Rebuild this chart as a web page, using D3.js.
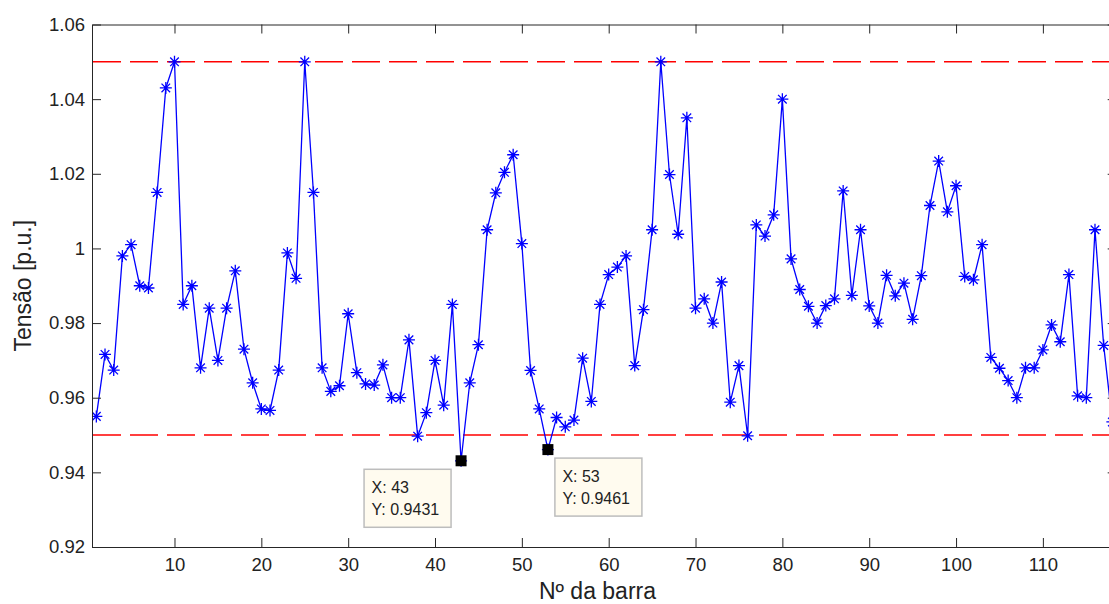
<!DOCTYPE html>
<html>
<head>
<meta charset="utf-8">
<script src="https://cdn.jsdelivr.net/npm/d3@7"></script>
<style>
  body { margin: 0; background: #fff; }
  svg { display: block; font-family: "Liberation Sans", Arial, sans-serif; }
  .axis path, .axis line { stroke: #262626; stroke-width: 1; }
  .axis text { fill: #222; font-size: 18.5px; }
</style>
</head>
<body>
<svg id="chart" width="1109" height="604"></svg>
<script>
// bus numbers and voltage profile (p.u.)
const buses = d3.range(1, 119);
const voltages = [
  0.955, 0.9716, 0.9674, 0.998, 1.001, 0.990, 0.9894, 1.015, 1.043, 1.050,
  0.985, 0.990, 0.968, 0.984, 0.970, 0.984, 0.994, 0.973, 0.964, 0.957,
  0.9566, 0.9674, 0.9988, 0.992, 1.050, 1.015, 0.968, 0.9617, 0.9632, 0.9825,
  0.9667, 0.9637, 0.9634, 0.9688, 0.960, 0.960, 0.9755, 0.9497, 0.956, 0.970,
  0.958, 0.985, 0.9431, 0.964, 0.9742, 1.005, 1.0149, 1.0204, 1.0251, 1.0013,
  0.9673, 0.957, 0.9461, 0.9547, 0.9522, 0.954, 0.9706, 0.959, 0.985, 0.993,
  0.995, 0.998, 0.9686, 0.9836, 1.005, 1.050, 1.0198, 1.0038, 1.035, 0.984,
  0.9865, 0.980, 0.991, 0.9588, 0.9686, 0.9498, 1.0063, 1.0033, 1.009, 1.040,
  0.9972, 0.989, 0.9845, 0.980, 0.9847, 0.9865, 1.0154, 0.9874, 1.005, 0.9846,
  0.980, 0.9928, 0.9873, 0.9907, 0.981, 0.9927, 1.0115, 1.0234, 1.0098, 1.0168,
  0.9925, 0.9916, 1.001, 0.9708, 0.9679, 0.9646, 0.960, 0.968, 0.968, 0.9728,
  0.9795, 0.975, 0.993, 0.9605, 0.960, 1.005, 0.974, 0.9535
];
const limits = [0.95, 1.05];
const xTicks = [10, 20, 30, 40, 50, 60, 70, 80, 90, 100, 110];
const yTicks = [0.92, 0.94, 0.96, 0.98, 1, 1.02, 1.04, 1.06];
const tips = [
  { bus: 43, v: 0.9431, side: "left" },
  { bus: 53, v: 0.9461, side: "right" }
];

const svg = d3.select("#chart");
const m = { left: 92, right: 1116.7, top: 24.5, bottom: 547 };

const x = d3.scaleLinear().domain([0.5, 118.5]).range([m.left, m.right]);
const y = d3.scaleLinear().domain([0.92, 1.06]).range([m.bottom, m.top]);

svg.append("defs").append("clipPath").attr("id", "plotclip")
  .append("rect")
  .attr("x", m.left).attr("y", m.top)
  .attr("width", m.right - m.left).attr("height", m.bottom - m.top);

const plot = svg.append("g").attr("clip-path", "url(#plotclip)");

// limit lines
plot.selectAll("line.limit")
  .data(limits)
  .enter().append("line")
  .attr("class", "limit")
  .attr("x1", m.left + 1).attr("x2", m.right)
  .attr("y1", d => y(d)).attr("y2", d => y(d))
  .attr("stroke", "#ff0000")
  .attr("stroke-width", 1.5)
  .attr("stroke-dasharray", "28 9");

const pts = buses.map((b, i) => [b, voltages[i]]);

// voltage profile
plot.append("path")
  .datum(pts)
  .attr("fill", "none")
  .attr("stroke", "#0000ff")
  .attr("stroke-width", 1.3)
  .attr("d", d3.line().x(d => x(d[0])).y(d => y(d[1])));

// '*' markers
const r = 6, rd = 4.3;
const star = `M${-r},0H${r}M0,${-r}V${r}M${-rd},${-rd}L${rd},${rd}M${-rd},${rd}L${rd},${-rd}`;
plot.selectAll("path.mk")
  .data(pts)
  .enter().append("path")
  .attr("class", "mk")
  .attr("transform", d => `translate(${x(d[0])},${y(d[1])})`)
  .attr("d", star)
  .attr("fill", "none")
  .attr("stroke", "#0000ff")
  .attr("stroke-width", 1.3);

// axes, ticks pointing inward on all four sides
svg.append("g").attr("class", "axis")
  .attr("transform", `translate(0,${m.bottom})`)
  .call(d3.axisBottom(x).tickValues(xTicks).tickSizeInner(-9).tickSizeOuter(0).tickPadding(11));
svg.append("g").attr("class", "axis")
  .attr("transform", `translate(0,${m.top})`)
  .call(d3.axisTop(x).tickValues(xTicks).tickSizeInner(-9).tickSizeOuter(0).tickFormat(""));
svg.append("g").attr("class", "axis")
  .attr("transform", `translate(${m.left},0)`)
  .call(d3.axisLeft(y).tickValues(yTicks).tickSizeInner(-9).tickSizeOuter(0).tickPadding(7)
    .tickFormat(d => String(+d.toFixed(2))));
svg.append("g").attr("class", "axis")
  .attr("transform", `translate(${m.right},0)`)
  .call(d3.axisRight(y).tickValues(yTicks).tickSizeInner(-9).tickSizeOuter(0).tickFormat(""));

// data tips
tips.forEach(t => {
  const px = x(t.bus), py = y(t.v);
  svg.append("rect")
    .attr("x", px - 5.5).attr("y", py - 5.5)
    .attr("width", 11).attr("height", 11)
    .attr("fill", "#000");

  const bx = t.side === "left" ? px - 97 : px + 7;
  const by = py + 8.5;
  const box = svg.append("g").attr("transform", `translate(${bx},${by})`);
  box.append("rect")
    .attr("width", 87).attr("height", 58)
    .attr("fill", "#fffbef")
    .attr("stroke", "#bdbdbd")
    .attr("stroke-width", 1.5);
  box.append("text").attr("x", 7.5).attr("y", 24)
    .attr("font-size", "16px").attr("fill", "#222")
    .text(`X: ${t.bus}`);
  box.append("text").attr("x", 7.5).attr("y", 45.5)
    .attr("font-size", "16px").attr("fill", "#222")
    .text(`Y: ${t.v}`);
});

// axis labels
svg.append("text")
  .attr("x", (m.left + 1109) / 2 - 3).attr("y", 599)
  .attr("text-anchor", "middle")
  .attr("font-size", "23px").attr("fill", "#222")
  .text("Nº da barra");

svg.append("text")
  .attr("transform", `translate(31,${(m.top + m.bottom) / 2}) rotate(-90)`)
  .attr("text-anchor", "middle")
  .attr("font-size", "23px").attr("fill", "#222")
  .text("Tensão [p.u.]");
</script>
</body>
</html>
